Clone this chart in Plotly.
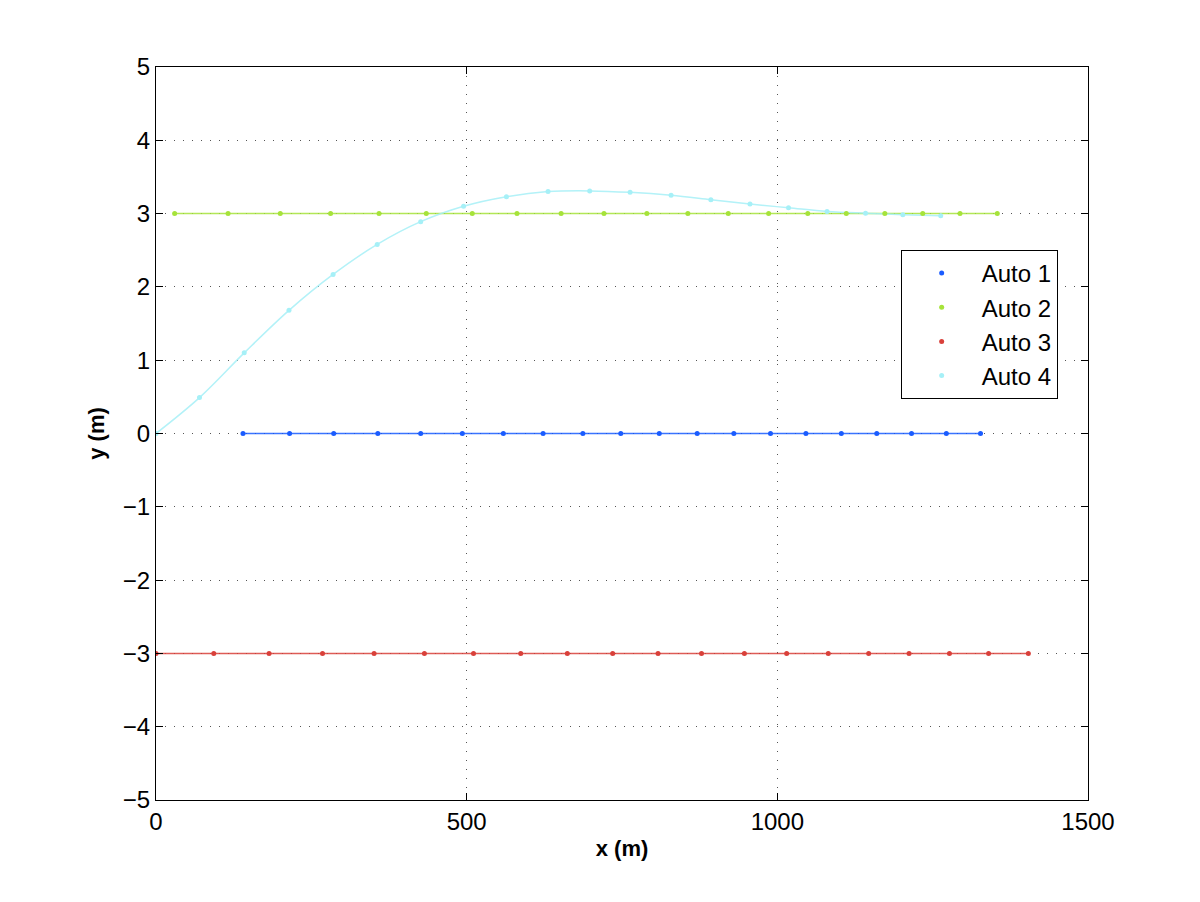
import plotly.graph_objects as go

names = ["Auto 1", "Auto 2", "Auto 3", "Auto 4"]
colors = ["#1a5cff", "#a6e33a", "#d9403a", "#a6f0f7"]

auto1_x = [140, 215, 286, 357, 426, 493, 559, 623, 687, 748, 810, 871, 930, 989, 1046, 1103, 1160, 1216, 1272, 1327]
auto1_y = [0] * len(auto1_x)

auto2_x = [30, 116, 200, 281, 359, 435, 509, 581, 652, 721, 790, 856, 921, 986, 1049, 1111, 1173, 1234, 1294, 1354]
auto2_y = [3] * len(auto2_x)

auto3_x = [0, 93, 182, 268, 351, 432, 511, 587, 662, 735, 808, 878, 947, 1015, 1082, 1147, 1212, 1277, 1340, 1404]
auto3_y = [-3] * len(auto3_x)

auto4_x = [0, 70, 142, 214, 285, 356, 426, 495, 564, 631, 698, 763, 829, 893, 956, 1018, 1080, 1142, 1202, 1263]
auto4_y = [0.0, 0.49, 1.10, 1.68, 2.17, 2.58, 2.89, 3.10, 3.23, 3.30, 3.31, 3.29, 3.25, 3.19, 3.13, 3.08, 3.03, 3.005, 2.986, 2.97]

series = [(auto1_x, auto1_y), (auto2_x, auto2_y), (auto3_x, auto3_y), (auto4_x, auto4_y)]

fig = go.Figure()
for name, color, (xs, ys) in zip(names, colors, series):
    fig.add_trace(go.Scatter(x=xs, y=ys, mode="lines", line=dict(color=color, width=1.5, shape="spline"),
                             showlegend=False, hoverinfo="skip", opacity=0.85))
for name, color, (xs, ys) in zip(names, colors, series):
    fig.add_trace(go.Scatter(x=xs, y=ys, mode="markers", name=name,
                             marker=dict(color=color, size=5)))

font = "Liberation Sans, Arial, Helvetica, sans-serif"
axis_common = dict(
    showline=True, linecolor="black", linewidth=1, mirror="ticks",
    ticks="inside", ticklen=7, tickcolor="black",
    showgrid=True, gridcolor="#555555", griddash="1px,8px", gridwidth=1,
    zeroline=False, tickfont=dict(size=24, color="black", family=font),
)
fig.update_layout(
    width=1200, height=902,
    margin=dict(l=148, r=120, t=59, b=110),
    plot_bgcolor="white", paper_bgcolor="white",
    font=dict(family=font, color="black"),
    xaxis=dict(range=[0, 1500], tickvals=[0, 500, 1000, 1500],
               title=dict(text="<b>x (m)</b>", font=dict(size=22), standoff=6), **axis_common),
    yaxis=dict(range=[-5, 5], tickvals=list(range(-5, 6)),
               ticktext=[("\u2212" + str(-v)) if v < 0 else str(v) for v in range(-5, 6)],
               title=dict(text="<b>y (m)</b>", font=dict(size=22), standoff=12), **axis_common),
    legend=dict(x=0.799, y=0.7505, xanchor="left", yanchor="top",
                bordercolor="black", borderwidth=1, bgcolor="white",
                font=dict(size=24, color="black", family=font), itemwidth=70,
                tracegroupgap=0),
)
fig.write_html("out.html")
